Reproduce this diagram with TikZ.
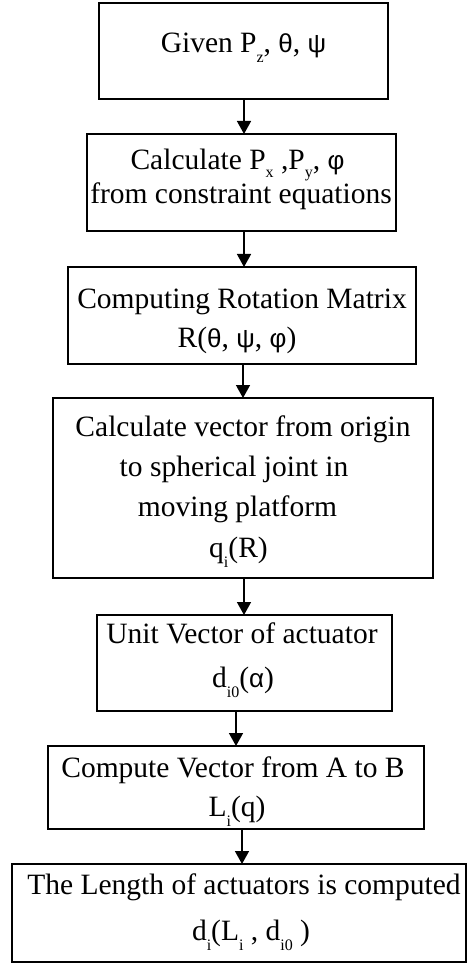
\documentclass[tikz,border=0pt]{standalone}
\usepackage{fontspec}
\setmainfont{Liberation Serif}
\newfontfamily\greekfont{Liberation Sans}
\usetikzlibrary{arrows.meta}

% upright sans Greek letters and lowered small subscripts
\newcommand{\gk}[1]{{\greekfont\fontsize{26}{26}\selectfont #1}}
\newcommand{\lo}[2][10pt]{\raisebox{-#1}{\fontsize{16}{16}\selectfont #2}}

\begin{document}
\begin{tikzpicture}[x=1pt,y=-1pt,
  thinbox/.style={draw, rectangle, line width=1.6pt, inner sep=0pt, outer sep=0pt},
  thickbox/.style={thinbox, line width=2.6pt},
  txt/.style={inner sep=0pt, anchor=base, font=\fontsize{29.5}{30}\selectfont},
  arr/.style={line width=1.5pt, -{Triangle[width=14pt,length=13pt]}}]

\fill[white] (0,0) rectangle (469,965);
\path[use as bounding box] (0,0) rectangle (469,965);

% process boxes
\node[thinbox,  minimum width=289pt, minimum height=96pt]  (b1) at (243.5,51) {};
\node[thinbox,  minimum width=309pt, minimum height=97pt]  (b2) at (241.5,182.5) {};
\node[thickbox, minimum width=348pt, minimum height=97pt]  (b3) at (242,315.5) {};
\node[thinbox,  minimum width=380pt, minimum height=180pt] (b4) at (243,488) {};
\node[thickbox, minimum width=295pt, minimum height=96pt]  (b5) at (244.5,663) {};
\node[thinbox,  minimum width=376pt, minimum height=83pt]  (b6) at (236,787.5) {};
\node[thickbox, minimum width=454pt, minimum height=98pt]  (b7) at (239,913) {};

% box texts
\node[txt] (t1) at (243.5,53) {Given P\lo{z}, \gk{θ}, \gk{ψ}};

\node[txt] (t2a) at (237.5,170) {Calculate P\lo[8pt]{x} ,P\lo[8pt]{y}, \gk{φ}};
\node[txt] (t2b) at (241,204) {from constraint equations};

\node[txt] (t3a) at (242,308) {Computing Rotation Matrix};
\node[txt] (t3b) at (237,347) {R(\gk{θ}, \gk{ψ}, \gk{φ})};

\node[txt] (t4a) at (243,436) {Calculate vector from origin};
\node[txt] (t4b) at (234,476) {to spherical joint in};
\node[txt] (t4c) at (237.5,516) {moving platform};
\node[txt] (t4d) at (238.5,557) {q\lo{i}(R)};

\node[txt] (t5a) at (242,643) {Unit Vector of actuator};
\node[txt] (t5b) at (243,687) {d\lo{i0}(\gk{α})};

\node[txt] (t6a) at (233,777) {Compute Vector from A to B};
\node[txt] (t6b) at (237,816) {L\lo{i}(q)};

\node[txt] (t7a) at (244,894) {The Length of actuators is computed};
\node[txt] (t7b) at (251,940) {d\lo{i}(L\lo{i} , d\lo{i0} )};

% flow arrows
\draw[arr] ([xshift=0.5pt]b1.south) -- ([xshift=0.5pt]b1.south |- b2.north);
\draw[arr] ([xshift=2.5pt]b2.south) -- ([xshift=2.5pt]b2.south |- b3.north);
\draw[arr] ([xshift=1pt]b3.south) -- ([xshift=1pt]b3.south |- b4.north);
\draw[arr] ([xshift=1pt]b4.south) -- ([xshift=1pt]b4.south |- b5.north);
\draw[arr] ([xshift=-8.5pt]b5.south) -- ([xshift=-8.5pt]b5.south |- b6.north);
\draw[arr] ([xshift=6pt]b6.south) -- ([xshift=6pt]b6.south |- b7.north);
\end{tikzpicture}
\end{document}
